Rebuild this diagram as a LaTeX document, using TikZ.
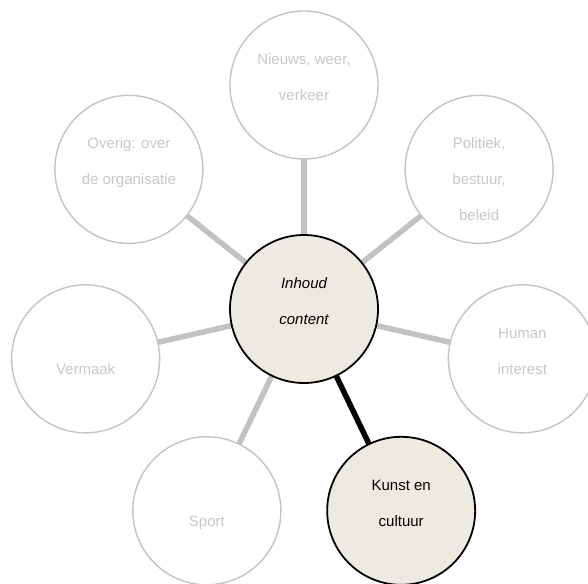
\documentclass[tikz,border=0pt]{standalone}
\usepackage{fontspec}
\setmainfont{Liberation Sans}
\usetikzlibrary{calc,backgrounds}
\definecolor{hubfill}{HTML}{EDEBE0}
\definecolor{rimgray}{HTML}{C4C4C4}
\definecolor{spokegray}{HTML}{C2C2C2}
\definecolor{palegray}{HTML}{C8C8C8}
\tikzset{
  bubble/.style={circle, minimum size=148pt, inner sep=0pt, line width=1.4pt, draw=rimgray, fill=white},
  focus/.style={circle, minimum size=148pt, inner sep=0pt, line width=1.8pt, draw=black, fill=hubfill},
  spoke/.style={line width=5.5pt, draw=spokegray},
  boldspoke/.style={line width=5.5pt, draw=black},
  txt/.style={anchor=base, inner sep=0pt, font=\fontsize{15}{18}\selectfont, text=palegray},
  darktxt/.style={txt, text=black},
}
\begin{document}
\begin{tikzpicture}[x=1pt,y=1pt]
\useasboundingbox (0,0) rectangle (588,583);
\begin{scope}
\clip (0,0) rectangle (588,583);
% hub and the seven surrounding topics
\node[focus] (hub) at (304,274) {};
\node[bubble] (nieuws)   at ($(hub)+(90:224)$) {};
\node[bubble] (politiek) at ($(hub)+(38.57:224)$) {};
\node[bubble] (human)    at ($(hub)+(-12.86:224)$) {};
\node[focus]  (kunst)    at ($(hub)+(-64.29:224)$) {};
\node[bubble] (sport)    at ($(hub)+(-115.71:224)$) {};
\node[bubble] (vermaak)  at ($(hub)+(-167.14:224)$) {};
\node[bubble] (overig)   at ($(hub)+(141.43:224)$) {};

% spokes behind the circles
\begin{pgfonlayer}{background}
\draw[spoke] (hub.center) -- (nieuws.center);
\draw[spoke] (hub.center) -- (politiek.center);
\draw[spoke] (hub.center) -- (human.center);
\draw[boldspoke] (hub.center) -- (kunst.center);
\draw[spoke] (hub.center) -- (sport.center);
\draw[spoke] (hub.center) -- (vermaak.center);
\draw[spoke] (hub.center) -- (overig.center);
\end{pgfonlayer}

% labels
\node[darktxt, font=\fontsize{15}{18}\selectfont\itshape] (hubA) at ([yshift=20.5pt]hub.center) {Inhoud};
\node[darktxt, font=\fontsize{15}{18}\selectfont\itshape] (hubB) at ([yshift=-15.5pt]hub.center) {content};

\node[txt] (nieuwsA) at ([yshift=20.5pt]nieuws.center) {Nieuws, weer,};
\node[txt] (nieuwsB) at ([yshift=-15.5pt]nieuws.center) {verkeer};

\node[txt] (politiekA) at ([yshift=20.5pt]politiek.center) {Politiek,};
\node[txt] (politiekB) at ([yshift=-15.5pt]politiek.center) {bestuur,};
\node[txt] (politiekC) at ([yshift=-51pt]politiek.center) {beleid};

\node[txt] (humanA) at ([yshift=20.5pt]human.center) {Human};
\node[txt] (humanB) at ([yshift=-15.5pt]human.center) {interest};

\node[darktxt] (kunstA) at ([yshift=20.5pt]kunst.center) {Kunst en};
\node[darktxt] (kunstB) at ([yshift=-15.5pt]kunst.center) {cultuur};

\node[txt] (sportA) at ([yshift=-16pt]sport.center) {Sport};

\node[txt] (vermaakA) at ([yshift=-16pt]vermaak.center) {Vermaak};

\node[txt] (overigA) at ([yshift=20.5pt]overig.center) {Overig: over};
\node[txt] (overigB) at ([yshift=-15.5pt]overig.center) {de organisatie};
\end{scope}
\end{tikzpicture}
\end{document}
